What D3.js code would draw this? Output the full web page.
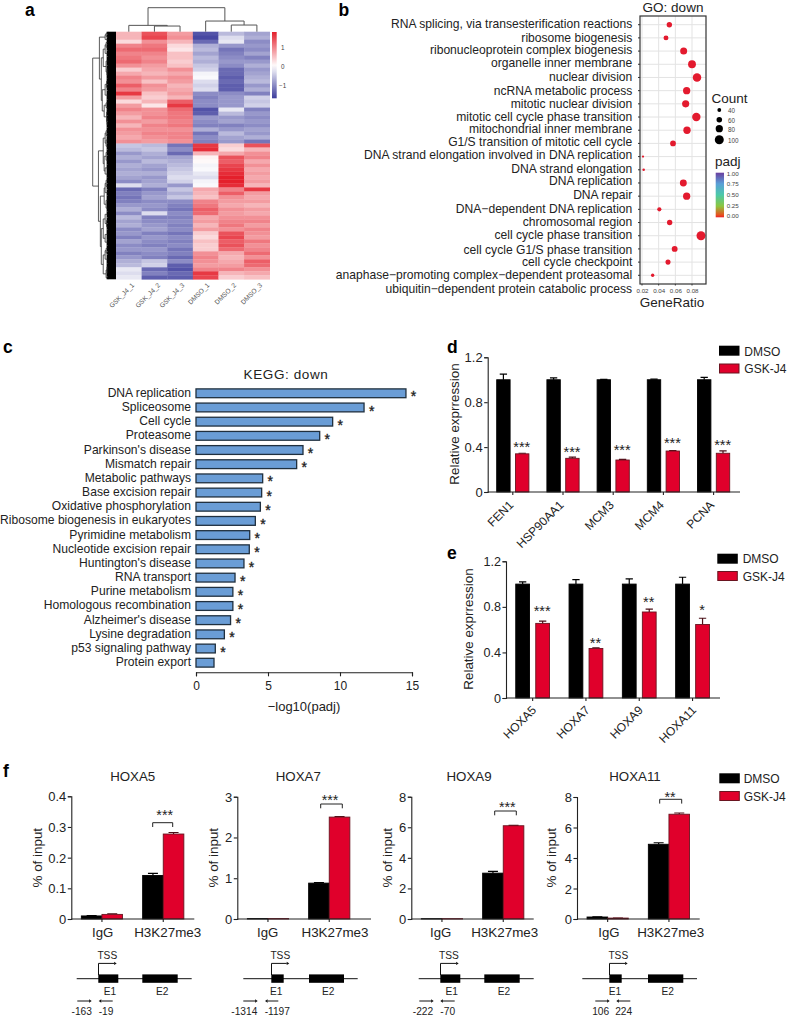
<!DOCTYPE html>
<html><head><meta charset="utf-8">
<script src="https://cdn.jsdelivr.net/npm/d3@7"></script>
<style>
html,body{margin:0;padding:0;background:#fff}
svg{display:block}
text{font-family:"Liberation Sans",Arial,sans-serif;fill:#222}
</style></head><body>
<svg id="c" width="787" height="1016" viewBox="0 0 787 1016"></svg>
<script>
// ---------- DATA ----------
const heatSamples=["GSK_J4_1","GSK_J4_2","GSK_J4_3","DMSO_1","DMSO_2","DMSO_3"];
const heatRows=[
[.6,1.4,.8,-1.5,-.6,-.8],[.6,1.5,.9,-1.6,-.3,-.7],[.3,.9,.6,-1.3,-.2,-1],[1,1.1,.3,-.7,-.9,-.9],
[1.2,1.2,.2,-.6,-1.2,-1],[1,1,.5,-.8,-1.1,-.8],[1.1,.9,.5,-.6,-1,-1.1],[1.2,1,.4,-.7,-.9,-.9],
[.9,.8,.5,-.5,-1,-.7],[.4,.7,.9,-.4,-1.3,-.9],[.7,.6,.7,-.1,-1.3,-.8],[1,.8,.9,-.05,-1.4,-.7],
[.9,.5,.8,-.3,-1.3,-.6],[1.3,.9,.6,-.4,-1.4,-.9],[1,.8,.7,-.3,-1.4,-.7],[1.6,.5,.8,-1,-1,-1.1],
[.8,.4,.6,-1.1,-.9,-.4],[.3,.6,1.3,-1,-.9,-.5],[.8,.2,1.6,-1,-.9,-.4],[1,.9,1.2,-1.5,-.2,-1.1],
[.8,.9,1.1,-1.4,-.6,-.9],[.6,1,1.1,-.9,-.9,-1],[.9,.8,1,-1,-.8,-.9],[.6,1,1.1,-1.1,-1.1,-1],
[.9,.9,.9,-.7,-.9,-.8],[.8,1,1,-1.2,-.6,-.9],[.7,.9,1,-1,-.8,-.7],[.9,.8,.9,-1.1,-.9,-1.2],
[-.5,-.6,-1.2,1.6,.4,1.4],[-.6,-.5,-1,1.7,.3,.6],[-.9,-.7,-1.3,.6,.7,.9],[-.7,-.8,-.8,.1,1.4,1],
[-.9,-.6,-.7,.05,1.3,.7],[-.7,-.8,-.6,-.1,1.5,.9],[-.8,-.9,-.5,-.05,1.6,.7],[-.7,-.7,-.4,-.2,1.7,.8],
[-.8,-.9,-.3,-.3,1.8,.7],[-1,-.8,-.4,-.1,1.8,.8],[-.3,-.7,-.9,-.05,1.7,.6],[-1.3,-1.1,-.5,.7,1,1.6],
[-1.1,-.9,-.7,.6,1.3,.8],[-1.2,-.8,-.5,.5,.9,.7],[-1.1,-1,-1,1,.8,.8],[-.9,-.9,-1.1,1.1,.7,.6],
[-.7,-1,-1.2,1.3,.9,.8],[-1,-.3,-1,1.2,.8,.7],[-.6,-1.1,-1.1,.7,.9,.9],[-.8,-1,-1,.8,1,1],
[-.7,-.9,-1.1,.6,1.1,.8],[-1,-.8,-1,.8,.9,1],[-.9,-1.1,-1.2,.4,1.4,.9],[-1.1,-.9,-1,.3,1.5,.8],
[-.8,-1,-1.1,.5,1.3,1.1],[-1,-1.1,-1,.4,1.4,.9],[-.9,-.9,-1.2,.4,1.2,1],[-1.1,-1,-1.1,.9,.7,1.2],
[-.9,-1.1,-1.3,1,.6,.9],[-.7,-.5,-1,.9,.7,1.3],[-.6,-.4,-1.4,.8,.8,1.2],[-.2,-1.3,-1.5,1,1,.9],
[-.3,-1.1,-1.3,1.6,.6,.7],[-.2,-1.4,-1.4,1.5,.4,.5]];
// dendrograms: [height, left, right]; leaves are sample indexes or row-counts
const colTree=[72,[19,0,[17,1,2]],[32,3,[20,4,5]]];
const rowTree=[16,
 [9,[3,[2,1,1],1],[7,[5,[3,[2,1,2],2],[2,3,[1,2,2]]],[6,[3,[1.5,2,2],3],[4,[2,2,1],[1.5,2,[1,2,2]]]]]],
 [10,[5,[3,[2,2,1],[2,2,2]],[4,[2,2,3],[3,2,2]]],[8,[4,[3,[2,2,2],2],[2,3,2]],[7,[5,[3,2,[1.5,2,2]],[3,3,2]],[5,[3,[2,2,1],3],[2,[1,2,2],1]]]]]];
const goTerms=["RNA splicing, via transesterification reactions","ribosome biogenesis","ribonucleoprotein complex biogenesis","organelle inner membrane","nuclear division","ncRNA metabolic process","mitotic nuclear division","mitotic cell cycle phase transition","mitochondrial inner membrane","G1/S transition of mitotic cell cycle","DNA strand elongation involved in DNA replication","DNA strand elongation","DNA replication","DNA repair","DNA\u2212dependent DNA replication","chromosomal region","cell cycle phase transition","cell cycle G1/S phase transition","cell cycle checkpoint","anaphase\u2212promoting complex\u2212dependent proteasomal"];
const goTermLastLine="ubiquitin\u2212dependent protein catabolic process";
const goRatio=[.0528,.0488,.07,.08,.086,.0736,.0724,.0852,.074,.0572,.0212,.022,.0696,.0736,.0408,.0532,.0908,.0592,.0512,.0328];
const goCount=[58,53,77,87,94,80,79,93,81,62,22,25,76,80,44,58,100,64,55,35];
const goTicks=[.02,.04,.06,.08];
const countLegend=[40,60,80,100];
const padjLegend=[1,.75,.5,.25,0];
const keggTerms=["DNA replication","Spliceosome","Cell cycle","Proteasome","Parkinson's disease","Mismatch repair","Metabolic pathways","Base excision repair","Oxidative phosphorylation","Ribosome biogenesis in eukaryotes","Pyrimidine metabolism","Nucleotide excision repair","Huntington's disease","RNA transport","Purine metabolism","Homologous recombination","Alzheimer's disease","Lysine degradation","p53 signaling pathway","Protein export"];
const keggValues=[14.58,11.67,9.49,8.59,7.43,6.99,4.63,4.56,4.47,4.12,3.73,3.70,3.33,2.71,2.56,2.56,2.40,1.97,1.34,1.25];
const keggStars=[1,1,1,1,1,1,1,1,1,1,1,1,1,1,1,1,1,1,1,0];
const dGenes=["FEN1","HSP90AA1","MCM3","MCM4","PCNA"];
const dDmso=[1,1,1,1,1], dDmsoErr=[.05,.017,.004,.006,.022];
const dGsk=[.34,.3,.285,.365,.345], dGskErr=[.005,.01,.006,.004,.022];
const dStars=["***","***","***","***","***"];
const eGenes=["HOXA5","HOXA7","HOXA9","HOXA11"];
const eDmso=[1,1,1,1], eDmsoErr=[.02,.04,.045,.06];
const eGsk=[.655,.435,.755,.645], eGskErr=[.02,.005,.025,.055];
const eStars=["***","**","**","*"];
const chipCats=["IgG","H3K27me3"];
const hoxa5Dmso=[.01,.142], hoxa5DmsoErr=[.001,.007], hoxa5Gsk=[.015,.277], hoxa5GskErr=[.002,.005];
const hoxa7Dmso=[.01,.88], hoxa7DmsoErr=[0,.01], hoxa7Gsk=[.01,2.5], hoxa7GskErr=[0,.01];
const hoxa9Dmso=[.02,3], hoxa9DmsoErr=[0,.12], hoxa9Gsk=[.02,6.1], hoxa9GskErr=[0,.03];
const hoxa11Dmso=[.13,4.9], hoxa11DmsoErr=[.01,.1], hoxa11Gsk=[.06,6.87], hoxa11GskErr=[.005,.08];
const seriesNames=["DMSO","GSK-J4"];

// ---------- HELPERS ----------
const RED="#e0002b", REDEDGE="#6a1420", FONT="#222";
const svg=d3.select("#c");
function txt(x,y,s,o={}){
  return svg.append("text").attr("x",x).attr("y",y).text(s)
   .attr("font-size",o.size||12).attr("text-anchor",o.anchor||"start")
   .attr("dominant-baseline",o.base||"central")
   .attr("font-weight",o.weight||null).style("fill",o.fill||FONT)
   .attr("letter-spacing",o.ls||null)
   .attr("transform",o.rot!=null?`rotate(${o.rot} ${x} ${y})`:null);
}
function stars(x,cy,s,size=14){ // cy = visual centre of the asterisks
  return svg.append("text").attr("x",x).attr("y",cy+size*.58).text(s)
   .attr("font-size",size).attr("text-anchor","middle").style("fill","#222");
}
function styleAxis(g,w=1.1){
  g.selectAll(".domain").attr("stroke","#222").attr("stroke-width",w);
  g.selectAll(".tick line").attr("stroke","#222").attr("stroke-width",w);
}
function legend(x,y0,y1,textX,textY0,textY1,w=20.5,h=10){
  svg.append("rect").attr("x",x).attr("y",y0).attr("width",w).attr("height",h).attr("fill","#000");
  svg.append("rect").attr("x",x+.5).attr("y",y1+.5).attr("width",w-1).attr("height",h-1).attr("fill",RED).attr("stroke",REDEDGE);
  txt(textX,textY0,seriesNames[0],{size:12});
  txt(textX,textY1,seriesNames[1],{size:12});
}
["a","b","c","d","e","f"].forEach((l,i)=>{
  const p=[[25,16],[338.5,16],[3,353],[447,353],[447,559],[3,777]][i];
  svg.append("text").attr("x",p[0]).attr("y",p[1]).text(l).attr("font-size",17.5).attr("font-weight","bold").style("fill","#000");
});

// ---------- PANEL A ----------
(function(){
  const x=d3.scaleBand().domain(d3.range(6)).range([116,269.7]);
  const y=d3.scaleBand().domain(d3.range(heatRows.length)).range([31.7,279.3]);
  const color=d3.scaleLinear().domain([-1.7,0,1.8]).range(["#3c3c9c","#ffffff","#e4202c"]);
  const g=svg.append("g");
  heatRows.forEach((r,i)=>r.forEach((v,j)=>{
    g.append("rect").attr("x",x(j)).attr("y",y(i)).attr("width",x.bandwidth()+.3).attr("height",y.bandwidth()+.3).attr("fill",color(v));
  }));
  // column dendrogram
  const hY=d3.scaleLinear().domain([0,72]).range([31.7,7.7]);
  const dg=svg.append("g").attr("fill","none").attr("stroke","#555").attr("stroke-width",1);
  function colNode(n){
    if(typeof n==="number") return {x:x(n)+x.bandwidth()/2,h:0};
    const a=colNode(n[1]),b=colNode(n[2]);
    dg.append("path").attr("d",`M${a.x},${hY(a.h)}V${hY(n[0])}H${b.x}V${hY(b.h)}`);
    return {x:(a.x+b.x)/2,h:n[0]};
  }
  colNode(colTree);
  // row dendrogram
  let leaves=0;(function c(n){if(typeof n==="number")leaves+=n;else{c(n[1]);c(n[2]);}})(rowTree);
  const ly=d3.scaleLinear().domain([0,leaves]).range([31.7,279.3]);
  const hX=d3.scaleLinear().domain([0,16]).range([108,92.7]);
  const rg=svg.append("g").attr("fill","none").attr("stroke","#333").attr("stroke-width",.8);
  let cur=0;
  function rowNode(n){
    if(typeof n==="number"){const yy=ly(cur+n/2);cur+=n;
      rg.append("path").attr("d",`M${hX(.6)},${ly(cur-n)}V${ly(cur)}`).attr("stroke-width",1.6).attr("stroke","#000");
      return {y:yy,h:.6};}
    const a=rowNode(n[1]),b=rowNode(n[2]);
    rg.append("path").attr("d",`M${hX(a.h)},${a.y}H${hX(n[0])}V${b.y}H${hX(b.h)}`);
    return {y:(a.y+b.y)/2,h:n[0]};
  }
  rowNode(rowTree);
  svg.append("rect").attr("x",108).attr("y",31.7).attr("width",8).attr("height",247.6).attr("fill","#000");
  // labels
  heatSamples.forEach((s,i)=>{
    const ex=x(i)+x.bandwidth()/2+[4,4.5,3,2.5,3.5,4][i];
    txt(ex,284,s,{size:6.6,anchor:"end",rot:-45,fill:"#555"});
  });
  // colour bar
  const cb=d3.scaleLinear().domain([-1.7,1.8]).range([98.3,32]);
  const defs=svg.append("defs");
  const lg=defs.append("linearGradient").attr("id","hb").attr("x1",0).attr("x2",0).attr("y1",1).attr("y2",0);
  d3.range(0,1.001,.1).forEach(t=>lg.append("stop").attr("offset",t).attr("stop-color",color(-1.7+3.5*t)));
  svg.append("rect").attr("x",272).attr("y",32).attr("width",4.7).attr("height",66.3).attr("fill","url(#hb)");
  [[1,"1"],[0,"0"],[-1,"\u22121"]].forEach(d=>txt(d[0]<0?279:281,cb(d[0]),d[1],{size:6.3,fill:"#444"}));
})();

// ---------- PANEL B ----------
(function(){
  const L=640,R=706,T=16,B=284;
  const x=d3.scaleLinear().domain([.02,.08]).range([642,692]);
  const y=d3.scalePoint().domain(goTerms).range([24.7,275.3]);
  const r=d3.scaleLinear().domain([40,100]).range([1.9,4.5]);
  const g=svg.append("g");
  goTerms.forEach(t=>g.append("line").attr("x1",L).attr("x2",R).attr("y1",y(t)).attr("y2",y(t)).attr("stroke","#e3e3e3"));
  goTicks.forEach(t=>g.append("line").attr("x1",x(t)).attr("x2",x(t)).attr("y1",T).attr("y2",B).attr("stroke","#e3e3e3"));
  goTerms.forEach((t,i)=>{
    g.append("circle").attr("cx",x(goRatio[i])).attr("cy",y(t)).attr("r",r(goCount[i])).attr("fill","#e31a2e");
  });
  g.append("rect").attr("x",L).attr("y",T).attr("width",R-L).attr("height",B-T).attr("fill","none").attr("stroke","#333").attr("stroke-width",1.2);
  const labelY=[23.7,37.7,50,63,76.7,91,104,117,129,142,155,169,181.3,195,208.7,222.3,235.3,249.7,262.3,275.3];
  goTerms.forEach((t,i)=>{
    txt(632.3,labelY[i],t,{size:12.1,anchor:"end"});
    g.append("line").attr("x1",L-2).attr("x2",L).attr("y1",y(t)).attr("y2",y(t)).attr("stroke","#333");
  });
  txt(632,289.3,goTermLastLine,{size:12.1,anchor:"end"});
  goTicks.forEach(t=>{
    g.append("line").attr("x1",x(t)).attr("x2",x(t)).attr("y1",B).attr("y2",B+1.5).attr("stroke","#333");
    txt(x(t)+.5,290.5,d3.format(".2f")(t),{size:6.2,anchor:"middle",fill:"#444"});
  });
  txt(673,7,"GO: down",{size:13.5,anchor:"middle"});
  txt(672,302,"GeneRatio",{size:13.5,anchor:"middle"});
  txt(711.5,98.7,"Count",{size:13.5});
  const ly=[110,119.7,128.7,139.7];
  countLegend.forEach((c,i)=>{
    svg.append("circle").attr("cx",719.3).attr("cy",ly[i]).attr("r",r(c)).attr("fill","#000");
    txt(728,ly[i]+.3,c,{size:6.3,fill:"#444"});
  });
  txt(715,161.7,"padj",{size:13.5});
  const colors=d3.scaleLinear().domain([0,.05,.25,.5,.75,1]).range(["#e8222a","#e8501e","#8cc63f","#4cc9a8","#5aa0d8","#6a3fa0"]);
  const sc=d3.scaleLinear().domain([0,1]).range([216.3,173.7]);
  const lg=svg.append("defs").append("linearGradient").attr("id","pb").attr("x1",0).attr("x2",0).attr("y1",1).attr("y2",0);
  d3.range(0,1.001,.05).forEach(t=>lg.append("stop").attr("offset",t).attr("stop-color",colors(t)));
  svg.append("rect").attr("x",715.7).attr("y",172.7).attr("width",8.3).attr("height",44.6).attr("fill","url(#pb)");
  padjLegend.forEach(p=>txt(726.7,sc(p)-.4,d3.format(".2f")(p),{size:6.2,fill:"#444"}));
})();

// ---------- PANEL C ----------
(function(){
  const x=d3.scaleLinear().domain([0,15]).range([196,412]);
  const y=d3.scaleBand().domain(keggTerms).range([386.2,669.8]).paddingInner(.38).paddingOuter(.19);
  keggTerms.forEach((t,i)=>{
    svg.append("rect").attr("x",x(0)).attr("y",y(t)).attr("width",x(keggValues[i])-x(0)).attr("height",y.bandwidth())
      .attr("fill","#6a9dd6").attr("stroke","#20303f").attr("stroke-width",1.3);
    txt(191,y(t)+y.bandwidth()/2-.5,t,{size:12.1,anchor:"end"});
    if(keggStars[i]) stars(x(keggValues[i])+7.6,y(t)+y.bandwidth()/2,"*",14).style("stroke","#222").style("stroke-width",.35);
  });
  const ax=svg.append("g").attr("transform","translate(0,672.3)").call(d3.axisBottom(x).tickValues([0,5,10,15]).tickSize(4).tickFormat(d3.format("d")));
  styleAxis(ax,1.1);
  ax.selectAll("text").attr("font-size",12).attr("dy",0).attr("y",14).style("fill",FONT).attr("dominant-baseline","central");
  txt(286,374,"KEGG: down",{size:13.5,anchor:"middle",ls:.6});
  txt(304,706,"\u2212log10(padj)",{size:13,anchor:"middle"});
})();

// ---------- BAR PANELS ----------
function barPanel(o){
  const y=d3.scaleLinear().domain(o.domain).range([o.y0,o.yTop]);
  const x=d3.scaleBand().domain(o.cats).range([o.axisX,o.axisX+o.band*o.cats.length]);
  const sub=d3.scalePoint().domain(seriesNames).range([-o.off,o.off]);
  const series=[[o.black,o.blackErr,"#000","#000"],[o.red,o.redErr,RED,REDEDGE]];
  const g=svg.append("g");
  series.forEach((s,k)=>{
    o.cats.forEach((c,i)=>{
      const cx=x(c)+x.bandwidth()/2+sub(seriesNames[k]);
      const hw=o.barW/2, cap=o.cap/2;
      if(s[1][i]>0){
        g.append("path").attr("d",`M${cx},${y(s[0][i])}V${y(s[0][i]+s[1][i])}M${cx-cap},${y(s[0][i]+s[1][i])}H${cx+cap}`)
         .attr("stroke",k?"#4a1018":"#000").attr("stroke-width",1.2).attr("fill","none");
      }
      g.append("rect").attr("x",cx-hw).attr("y",y(s[0][i])).attr("width",o.barW).attr("height",y(0)-y(s[0][i]))
       .attr("fill",s[2]).attr("stroke",s[3]).attr("stroke-width",.9);
    });
  });
  const ay=svg.append("g").attr("transform",`translate(${o.axisX},0)`).call(d3.axisLeft(y).tickValues(o.ticks).tickSize(3.5).tickFormat(d=>d));
  styleAxis(ay);
  ay.selectAll("text").attr("font-size",o.tickFont).style("fill",FONT).attr("x",-5).attr("dy",0).attr("dominant-baseline","central");
  const ax=svg.append("g").attr("transform",`translate(0,${o.y0})`).call(d3.axisBottom(x).tickSize(3).tickFormat(""));
  ax.select(".domain").attr("d",`M${o.axisX},0H${o.axisEnd}`);
  styleAxis(ax);
  if(o.ylabel) txt(o.ylabel[0],o.ylabel[1],o.ylabelText,{size:13.4,anchor:"middle",rot:-90});
  return {x,y};
}

// D
(function(){
  const p=barPanel({cats:dGenes,black:dDmso,blackErr:dDmsoErr,red:dGsk,redErr:dGskErr,domain:[0,1.2],y0:492,yTop:357.3,axisX:487.7,axisEnd:740,band:50.2,off:9.4,barW:13.4,cap:7.3,ticks:[0,.4,.8,1.2],tickFont:13,ylabel:[454,424],ylabelText:"Relative exprression"});
  const starY=[104,109,107,100.3,101.7];
  dGenes.forEach((g,i)=>{
    const tx=p.x(g)+p.x.bandwidth()/2;
    txt(tx-1.4,503,g,{size:12,anchor:"end",rot:-45});
    stars(tx+9,340+starY[i]-.5,dStars[i],14.5);
  });
  legend(719,345.7,363.5,744.3,351.7,369);
})();
// E
(function(){
  const p=barPanel({cats:eGenes,black:eDmso,blackErr:eDmsoErr,red:eGsk,redErr:eGskErr,domain:[0,1.2],y0:698,yTop:561.3,axisX:506,axisEnd:720,band:53.3,off:10,barW:13.8,cap:7.3,ticks:[0,.4,.8,1.2],tickFont:12.6,ylabel:[468,629],ylabelText:"Relative exprression"});
  const starY=[78.3,109.7,68.7,76.7];
  eGenes.forEach((g,i)=>{
    const tx=p.x(g)+p.x.bandwidth()/2;
    txt(tx+1.6,708,g,{size:12,anchor:"end",rot:-45});
    stars(tx+9.5,530+starY[i]-.5,eStars[i],14.5);
  });
  legend(717.3,553.7,571,742.7,559,576.7);
})();
// F
const chip=[
 {title:"HOXA5",tx:132.7,black:hoxa5Dmso,berr:hoxa5DmsoErr,red:hoxa5Gsk,rerr:hoxa5GskErr,domain:[0,.4],ticks:[0,.1,.2,.3,.4],axisX:71.3,yTop:796.3,axisEnd:194.3,lab:[37.7,857.7],igg:102.7,h3:167.7,br:[152.7,172.7,822.7],st:[164.7,811.7],sig:"***"},
 {title:"HOXA7",tx:298.3,black:hoxa7Dmso,berr:hoxa7DmsoErr,red:hoxa7Gsk,rerr:hoxa7GskErr,domain:[0,3],ticks:[0,1,2,3],axisX:237.3,yTop:796.7,axisEnd:371,lab:[213.3,857.7],igg:267.7,h3:335,br:[320.7,342.3,804],st:[330,796.7],sig:"***"},
 {title:"HOXA9",tx:469,black:hoxa9Dmso,berr:hoxa9DmsoErr,red:hoxa9Gsk,rerr:hoxa9GskErr,domain:[0,8],ticks:[0,2,4,6,8],axisX:411.3,yTop:796.7,axisEnd:533.7,lab:[387.5,857.7],igg:440.7,h3:504.7,br:[494.7,516.3,811],st:[507.3,803.3],sig:"***"},
 {title:"HOXA11",tx:635,black:hoxa11Dmso,berr:hoxa11DmsoErr,red:hoxa11Gsk,rerr:hoxa11GskErr,domain:[0,8],ticks:[0,2,4,6,8],axisX:577,yTop:797,axisEnd:699.7,lab:[552,857.7],igg:609,h3:670.7,br:[659.7,681.7,799.3],st:[670,794],sig:"**"}
];
chip.forEach(c=>{
  barPanel({cats:chipCats,black:c.black,blackErr:c.berr,red:c.red,redErr:c.rerr,domain:c.domain,y0:919,yTop:c.yTop,axisX:c.axisX,axisEnd:c.axisEnd,band:61.3,off:10.3,barW:20.6,cap:10,ticks:c.ticks,tickFont:13,ylabel:c.lab,ylabelText:"% of input"});
  txt(c.tx,776.3,c.title,{size:13.3,anchor:"middle"});
  txt(c.igg,932,chipCats[0],{size:13.2,anchor:"middle"});
  txt(c.h3,932.3,chipCats[1],{size:13.4,anchor:"middle"});
  svg.append("path").attr("d",`M${c.br[0]},${c.br[2]+4.3}V${c.br[2]}H${c.br[1]}V${c.br[2]+4.3}`).attr("fill","none").attr("stroke","#222").attr("stroke-width",1);
  stars(c.st[0],c.st[1],c.sig,14.3);
});
legend(719.3,773.3,791,743.7,779.3,796.7);

// gene models (layout only)
const geneModels=[
 {line:[76.7,191.7],e1:[98.3,118.3],e2:[142.3,177.7],tss:[98.5,116.7],tssText:107.3,e1t:110,e2t:162.3,fw:[77.3,91.7],rv:[112.7,98.7],p1:["-163",81.7],p2:["-19",106]},
 {line:[243.3,357.7],e1:[271.3,283.7],e2:[309,344],tss:[271.5,289.3],tssText:280.3,e1t:276.3,e2t:328.3,fw:[243.3,257.7],rv:[278.3,265],p1:["-1314",244.3],p2:["-1197",277.3]},
 {line:[418.7,533.7],e1:[440.3,460.3],e2:[484.3,519.7],tss:[440.5,458.7],tssText:449,e1t:451.7,e2t:504,fw:[419.3,433.7],rv:[454.7,440.3],p1:["-222",423],p2:["-70",447.7]},
 {line:[582.3,697],e1:[609.3,621.7],e2:[648,683.3],tss:[609.5,627.7],tssText:618.3,e1t:615,e2t:667.7,fw:[595.3,609.7],rv:[630.3,616.3],p1:["106",600.7],p2:["224",623.7]}
];
function arrow(x1,x2,y,s=2.6){
  const d=x2>x1?1:-1;
  svg.append("path").attr("d",`M${x1},${y}H${x2-d*s}`).attr("stroke","#111").attr("stroke-width",1);
  svg.append("path").attr("d",`M${x2},${y}L${x2-d*s},${y-s*.65}L${x2-d*s},${y+s*.65}Z`).attr("fill","#111");
}
geneModels.forEach(m=>{
  svg.append("line").attr("x1",m.line[0]).attr("x2",m.line[1]).attr("y1",978.7).attr("y2",978.7).attr("stroke","#111").attr("stroke-width",1);
  svg.append("rect").attr("x",m.e1[0]).attr("y",974.4).attr("width",m.e1[1]-m.e1[0]).attr("height",8.4).attr("fill","#000");
  svg.append("rect").attr("x",m.e2[0]).attr("y",974.4).attr("width",m.e2[1]-m.e2[0]).attr("height",8.4).attr("fill","#000");
  svg.append("path").attr("d",`M${m.tss[0]},975V963.4`).attr("stroke","#111").attr("fill","none");
  arrow(m.tss[0],m.tss[1],963.4);
  txt(m.tssText,955,"TSS",{size:10.2,anchor:"middle"});
  txt(m.e1t,991.3,"E1",{size:10.2,anchor:"middle"});
  txt(m.e2t,991.3,"E2",{size:10.2,anchor:"middle"});
  arrow(m.fw[0],m.fw[1],1001);
  arrow(m.rv[0],m.rv[1],1001);
  txt(m.p1[1],1011.5,m.p1[0],{size:10.2,anchor:"middle"});
  txt(m.p2[1],1011.5,m.p2[0],{size:10.2,anchor:"middle"});
});
</script></body></html>
